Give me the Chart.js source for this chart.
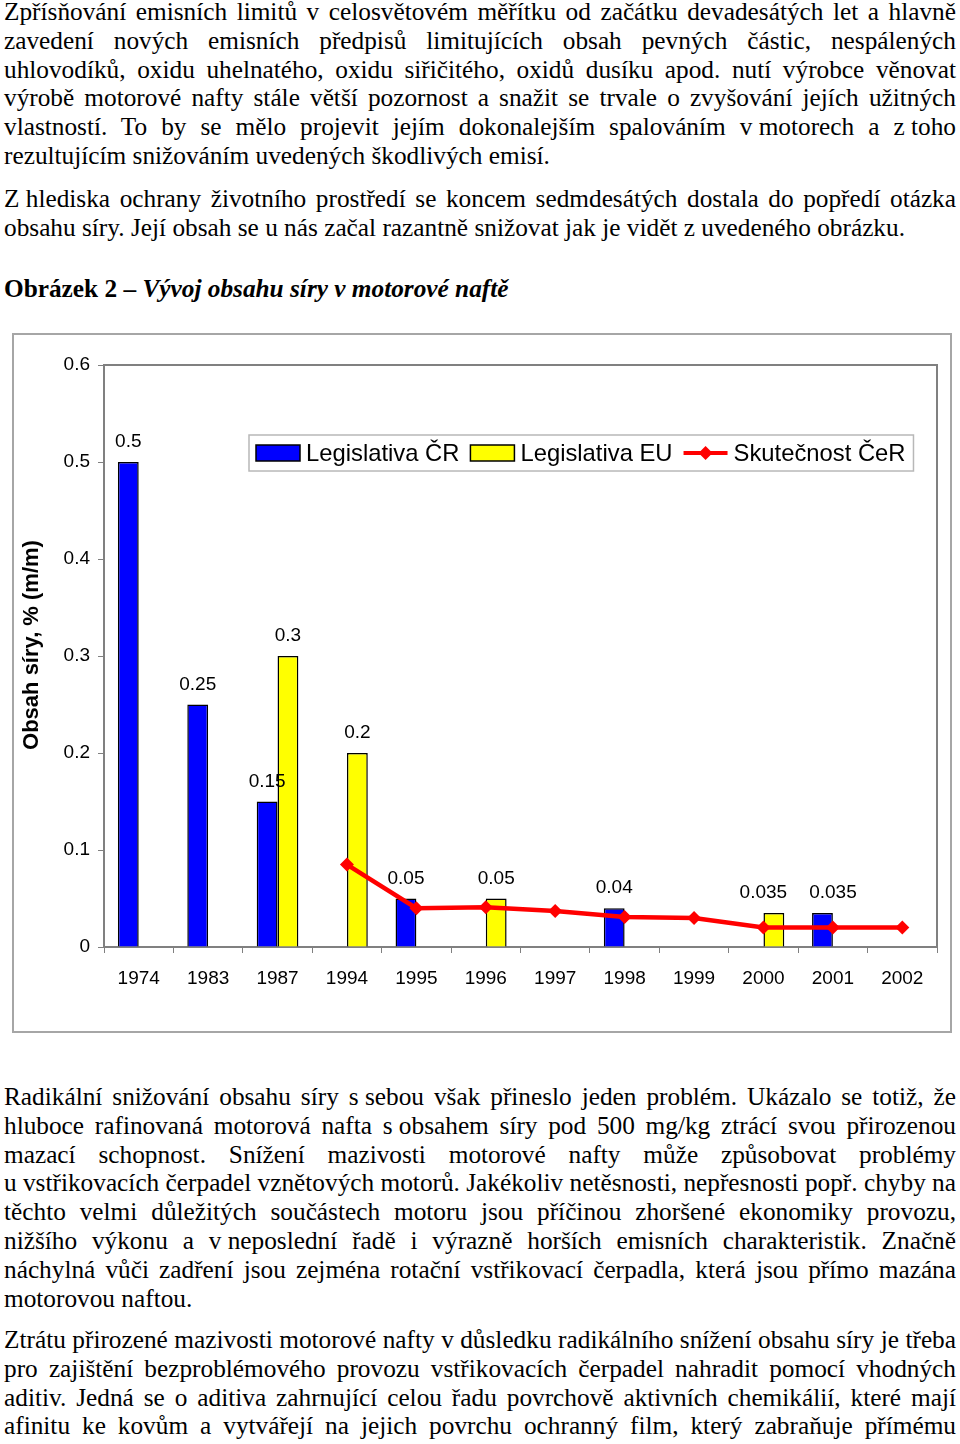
<!DOCTYPE html>
<html lang="cs">
<head>
<meta charset="utf-8">
<script src="https://cdn.jsdelivr.net/npm/chart.js@4.4.0/dist/chart.umd.min.js"></script>
<style>
  body { margin: 0; width: 960px; height: 1444px; overflow: hidden; background: #fff; position: relative; }
  .txt { position: absolute; left: 4px; width: 952px; font-family: "Liberation Serif", "Times New Roman", serif; font-size: 25.3px; line-height: 28.8px; color: #000; }
  .txt div { text-align: justify; text-align-last: justify; white-space: nowrap; }
  .txt div.last { text-align: left; text-align-last: left; }
  .nb { display: inline-block; }
  .cap { font-weight: bold; }
  #chartBox { position: absolute; left: 12px; top: 333px; width: 936px; height: 696px; border: 2px solid #a6a6a6; }
</style>
</head>
<body>

<div class="txt" style="top:-3px">
  <div>Zpřísňování emisních limitů v celosvětovém měřítku od začátku devadesátých let a hlavně</div>
  <div>zavedení nových emisních předpisů limitujících obsah pevných částic, nespálených</div>
  <div>uhlovodíků, oxidu uhelnatého, oxidu siřičitého, oxidů dusíku apod. nutí výrobce věnovat</div>
  <div>výrobě motorové nafty stále větší pozornost a snažit se trvale o zvyšování jejích užitných</div>
  <div>vlastností. To by se mělo projevit jejím dokonalejším spalováním <span class="nb">v motorech</span> a <span class="nb">z toho</span></div>
  <div class="last">rezultujícím snižováním uvedených škodlivých emisí.</div>
</div>

<div class="txt" style="top:184px">
  <div><span class="nb">Z hlediska</span> ochrany životního prostředí se koncem sedmdesátých dostala do popředí otázka</div>
  <div class="last">obsahu síry. Její obsah se u nás začal razantně snižovat jak je vidět z uvedeného obrázku.</div>
</div>

<div class="txt cap" style="top:274px">
  <div class="last">Obrázek 2 – <i>Vývoj obsahu síry v motorové naftě</i></div>
</div>

<div id="chartBox"><canvas id="myChart" width="936" height="696"></canvas></div>

<div class="txt" style="top:1082px">
  <div>Radikální snižování obsahu síry <span class="nb">s sebou</span> však přineslo jeden problém. Ukázalo se totiž, že</div>
  <div>hluboce rafinovaná motorová nafta <span class="nb">s obsahem</span> síry pod 500 mg/kg ztrácí svou přirozenou</div>
  <div>mazací schopnost. Snížení mazivosti motorové nafty může způsobovat problémy</div>
  <div><span class="nb">u vstřikovacích</span> čerpadel vznětových motorů. Jakékoliv netěsnosti, nepřesnosti popř. chyby na</div>
  <div>těchto velmi důležitých součástech motoru jsou příčinou zhoršené ekonomiky provozu,</div>
  <div>nižšího výkonu a <span class="nb">v neposlední</span> řadě i výrazně horších emisních charakteristik. Značně</div>
  <div>náchylná vůči zadření jsou zejména rotační vstřikovací čerpadla, která jsou přímo mazána</div>
  <div class="last">motorovou naftou.</div>
</div>

<div class="txt" style="top:1325px">
  <div>Ztrátu přirozené mazivosti motorové nafty <span class="nb">v důsledku</span> radikálního snížení obsahu síry je třeba</div>
  <div>pro zajištění bezproblémového provozu vstřikovacích čerpadel nahradit pomocí vhodných</div>
  <div>aditiv. Jedná se o aditiva zahrnující celou řadu povrchově aktivních chemikálií, které mají</div>
  <div>afinitu ke kovům a vytvářejí na jejich povrchu ochranný film, který zabraňuje přímému</div>
</div>

<script>
  const years = ['1974', '1983', '1987', '1994', '1995', '1996', '1997', '1998', '1999', '2000', '2001', '2002'];
  const legislativaCR = [0.5, 0.25, 0.15, null, 0.05, null, null, 0.04, null, null, 0.035, null];
  const legislativaEU = [null, null, 0.3, 0.2, null, 0.05, null, null, null, 0.035, null, null];
  const skutecnostCeR = [null, null, null, 0.085, 0.04, 0.041, 0.037, 0.031, 0.03, 0.02, 0.02, 0.02];
  const yTitle = 'Obsah síry, % (m/m)';

  const sans = '"Liberation Sans", Arial, sans-serif';

  // ramecek kolem plochy grafu
  const plotFrame = {
    id: 'plotFrame',
    beforeDatasetsDraw(chart) {
      const a = chart.chartArea, ctx = chart.ctx;
      ctx.save();
      ctx.strokeStyle = '#808080';
      ctx.lineWidth = 2;
      ctx.strokeRect(a.left, a.top, a.right - a.left, a.bottom - a.top);
      ctx.restore();
    }
  };

  // popisky hodnot nad sloupci (sousedni popisky na stejne vysce se odsunou od sebe)
  const barLabels = {
    id: 'barLabels',
    afterDatasetsDraw(chart) {
      const ctx = chart.ctx;
      ctx.save();
      ctx.font = '19px ' + sans;
      ctx.fillStyle = '#000';
      ctx.textAlign = 'center';
      ctx.textBaseline = 'alphabetic';
      const list = [];
      chart.data.datasets.forEach((ds, i) => {
        if (ds.type === 'line') return;
        chart.getDatasetMeta(i).data.forEach((el, j) => {
          const v = ds.data[j];
          if (v === null) return;
          const t = String(v);
          list.push({ t, x: el.x, y: el.y - 15, w: ctx.measureText(t).width });
        });
      });
      list.sort((p, q) => p.x - q.x);
      for (let k = 1; k < list.length; k++) {
        const p = list[k - 1], q = list[k];
        if (Math.abs(p.y - q.y) > 20) continue;
        const need = (p.w + q.w) / 2 + 22 - (q.x - p.x);
        if (need > 0) { p.x -= need / 2; q.x += need / 2; }
      }
      list.forEach(l => ctx.fillText(l.t, l.x, l.y));
      ctx.restore();
    }
  };

  // legenda uvnitr grafu + popis osy y
  const legendBox = {
    id: 'legendBox',
    afterDraw(chart) {
      const ctx = chart.ctx, a = chart.chartArea;
      ctx.save();
      ctx.font = '23.8px ' + sans;
      const x0 = a.left + 145, y0 = a.top + 70, h = 36;
      const items = chart.data.datasets.map(ds => ({ ds, w: ctx.measureText(ds.label).width }));
      let total = 7;
      items.forEach((it, k) => { total += 44 + 6 + it.w + (k < items.length - 1 ? 11 : 8); });
      ctx.fillStyle = '#fff';
      ctx.fillRect(x0, y0, total, h);
      ctx.strokeStyle = '#b8b8b8';
      ctx.lineWidth = 1.5;
      ctx.strokeRect(x0, y0, total, h);
      let x = x0 + 7;
      const cy = y0 + h / 2;
      items.forEach(it => {
        const ds = it.ds;
        if (ds.type === 'line') {
          ctx.strokeStyle = ds.borderColor;
          ctx.lineWidth = 4;
          ctx.beginPath();
          ctx.moveTo(x, cy);
          ctx.lineTo(x + 44, cy);
          ctx.stroke();
          ctx.fillStyle = ds.borderColor;
          ctx.beginPath();
          ctx.moveTo(x + 22 - 7, cy);
          ctx.lineTo(x + 22, cy - 7);
          ctx.lineTo(x + 22 + 7, cy);
          ctx.lineTo(x + 22, cy + 7);
          ctx.closePath();
          ctx.fill();
        } else {
          ctx.fillStyle = ds.backgroundColor;
          ctx.fillRect(x, cy - 8, 44, 16);
          ctx.strokeStyle = '#000';
          ctx.lineWidth = 1.5;
          ctx.strokeRect(x, cy - 8, 44, 16);
        }
        x += 50;
        ctx.fillStyle = '#000';
        ctx.textBaseline = 'middle';
        ctx.textAlign = 'left';
        ctx.fillText(ds.label, x, cy + 1);
        x += it.w + 11;
      });

      ctx.translate(a.left - 72, (a.top + a.bottom) / 2 - 11);
      ctx.rotate(-Math.PI / 2);
      ctx.font = 'bold 22px ' + sans;
      ctx.textAlign = 'center';
      ctx.textBaseline = 'middle';
      ctx.fillText(yTitle, 0, 0);
      ctx.restore();
    }
  };

  const ctx = document.getElementById('myChart');
  new Chart(ctx, {
    type: 'bar',
    data: {
      labels: years,
      datasets: [{
        label: 'Legislativa ČR',
        data: legislativaCR,
        backgroundColor: '#0000ff',
        borderColor: '#000',
        borderWidth: 1.5,
        order: 1
      }, {
        label: 'Legislativa EU',
        data: legislativaEU,
        backgroundColor: '#ffff00',
        borderColor: '#000',
        borderWidth: 1.5,
        order: 1
      }, {
        type: 'line',
        label: 'Skutečnost ČeR',
        data: skutecnostCeR,
        borderColor: '#ff0000',
        backgroundColor: '#ff0000',
        borderWidth: 4.5,
        pointStyle: 'rectRot',
        pointRadius: 7,
        pointBorderWidth: 0,
        spanGaps: false,
        order: 0
      }]
    },
    options: {
      responsive: false,
      animation: false,
      datasets: { bar: { categoryPercentage: 0.6, barPercentage: 1 } },
      layout: { padding: { top: 30, right: 13, left: 0, bottom: 0 } },
      plugins: { legend: { display: false }, tooltip: { enabled: false } },
      scales: {
        x: {
          ticks: { color: '#000', font: { family: sans, size: 19 }, padding: 14, maxRotation: 0, autoSkip: false },
          grid: { drawOnChartArea: false, tickLength: 6, color: '#808080', offset: true },
          border: { display: false },
          afterFit: s => { s.height = 84; }
        },
        y: {
          min: 0,
          max: 0.6,
          ticks: {
            stepSize: 0.1,
            color: '#000',
            font: { family: sans, size: 19 },
            padding: 8,
            callback: v => String(Math.round(v * 10) / 10)
          },
          grid: { drawOnChartArea: false, tickLength: 6, color: '#808080' },
          border: { display: false },
          afterFit: s => { s.width = 90; }
        }
      }
    },
    plugins: [plotFrame, barLabels, legendBox]
  });
</script>
</body>
</html>
